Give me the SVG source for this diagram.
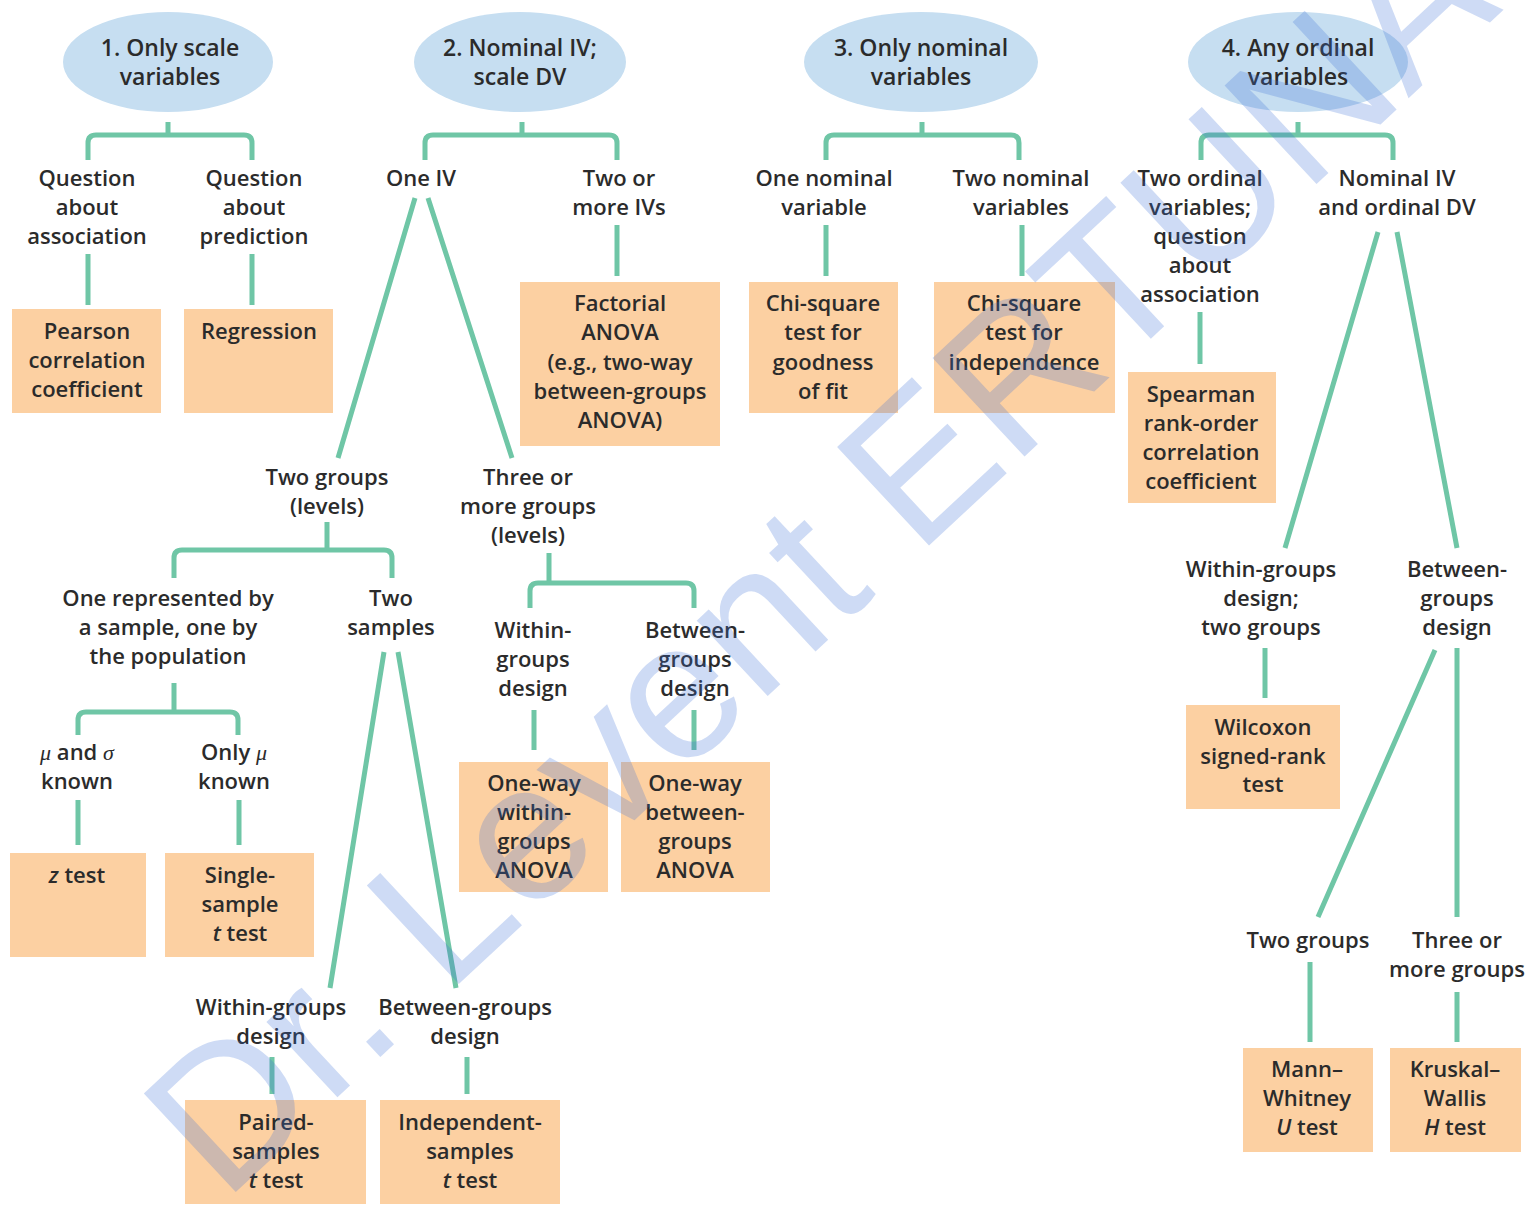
<svg xmlns="http://www.w3.org/2000/svg" width="1533" height="1207" viewBox="0 0 1533 1207">
<style>
text{font-family:"Open Sans","Noto Sans","Liberation Sans",sans-serif;font-size:22px;font-weight:600;fill:#2b2b2b;text-anchor:middle}
.head{font-size:23px}
.oval{fill:#c6def1}
.box{fill:#fcd0a2}
.con{fill:none;stroke:#6fc6a6;stroke-width:5;stroke-linecap:butt}
.wm{font-family:"Liberation Sans",sans-serif;font-size:196px;font-weight:400;fill:#3a6fd8;fill-opacity:0.25;text-anchor:start}
</style>
<rect width="1533" height="1207" fill="#ffffff"/>

<g id="connectors" class="con">
  <!-- tree 1 -->
  <path d="M168 122V135M88 160V143Q88 135 96 135H244Q252 135 252 143V160"/>
  <path d="M88 254V305M252 254V305"/>
  <!-- tree 2 -->
  <path d="M522 122V135M425 160V143Q425 135 433 135H609Q617 135 617 143V160"/>
  <path d="M617 225V276"/>
  <path d="M415 198L338 458M428 198L512 458"/>
  <path d="M327 522V550M174 578V558Q174 550 182 550H384Q392 550 392 558V578"/>
  <path d="M549 553V583M530 608V591Q530 583 538 583H686Q694 583 694 591V608"/>
  <path d="M534 710V750M694 710V750"/>
  <path d="M174 683V712M78 735V720Q78 712 86 712H230Q238 712 238 720V735"/>
  <path d="M78 800V845M239 800V845"/>
  <path d="M384 652L330 988M398 652L456 988"/>
  <path d="M272 1057V1094M467 1057V1094"/>
  <!-- tree 3 -->
  <path d="M922 122V135M826 160V143Q826 135 834 135H1011Q1019 135 1019 143V160"/>
  <path d="M826 225V276M1022 225V276"/>
  <!-- tree 4 -->
  <path d="M1298 122V135M1201 160V143Q1201 135 1209 135H1385Q1393 135 1393 143V160"/>
  <path d="M1200 312V364"/>
  <path d="M1378 232L1285 548M1397 232L1457 548"/>
  <path d="M1265 648V698"/>
  <path d="M1435 650L1318 917M1457 648V917"/>
  <path d="M1310 962V1042M1457 992V1042"/>
</g>

<g id="n1"><ellipse class="oval" cx="168" cy="62" rx="105" ry="50"/><text class="head"><tspan x="170" y="56">1. Only scale</tspan><tspan x="170" y="85">variables</tspan></text></g>
<g id="n2"><ellipse class="oval" cx="520" cy="62" rx="106" ry="50"/><text class="head"><tspan x="520" y="56">2. Nominal IV;</tspan><tspan x="520" y="85">scale DV</tspan></text></g>
<g id="n3"><ellipse class="oval" cx="921" cy="62" rx="117" ry="50"/><text class="head"><tspan x="921" y="56">3. Only nominal</tspan><tspan x="921" y="85">variables</tspan></text></g>
<g id="n4"><ellipse class="oval" cx="1298" cy="62" rx="110" ry="50"/><text class="head"><tspan x="1298" y="56">4. Any ordinal</tspan><tspan x="1298" y="85">variables</tspan></text></g>

<g id="l_assoc"><text><tspan x="87" y="186">Question</tspan><tspan x="87" y="215">about</tspan><tspan x="87" y="244">association</tspan></text></g>
<g id="l_pred"><text><tspan x="254" y="186">Question</tspan><tspan x="254" y="215">about</tspan><tspan x="254" y="244">prediction</tspan></text></g>
<g id="l_oneiv"><text><tspan x="421" y="186">One IV</tspan></text></g>
<g id="l_twoiv"><text><tspan x="619" y="186">Two or</tspan><tspan x="619" y="215">more IVs</tspan></text></g>
<g id="l_onenom"><text><tspan x="824" y="186">One nominal</tspan><tspan x="824" y="215">variable</tspan></text></g>
<g id="l_twonom"><text><tspan x="1021" y="186">Two nominal</tspan><tspan x="1021" y="215">variables</tspan></text></g>
<g id="l_twoord"><text><tspan x="1200" y="186">Two ordinal</tspan><tspan x="1200" y="215">variables;</tspan><tspan x="1200" y="244">question</tspan><tspan x="1200" y="273">about</tspan><tspan x="1200" y="302">association</tspan></text></g>
<g id="l_nomord"><text><tspan x="1397" y="186">Nominal IV</tspan><tspan x="1397" y="215">and ordinal DV</tspan></text></g>

<g id="b_pearson"><rect class="box" x="12" y="309" width="149" height="104"/><text><tspan x="87" y="339">Pearson</tspan><tspan x="87" y="368">correlation</tspan><tspan x="87" y="397">coefficient</tspan></text></g>
<g id="b_regression"><rect class="box" x="184" y="309" width="149" height="104"/><text><tspan x="259" y="339">Regression</tspan></text></g>
<g id="b_factorial"><rect class="box" x="520" y="282" width="200" height="164"/><text><tspan x="620" y="311">Factorial</tspan><tspan x="620" y="340">ANOVA</tspan><tspan x="620" y="370">(e.g., two-way</tspan><tspan x="620" y="399">between-groups</tspan><tspan x="620" y="428">ANOVA)</tspan></text></g>
<g id="b_goodness"><rect class="box" x="749" y="282" width="149" height="131"/><text><tspan x="823" y="311">Chi-square</tspan><tspan x="823" y="340">test for</tspan><tspan x="823" y="370">goodness</tspan><tspan x="823" y="399">of fit</tspan></text></g>
<g id="b_indep"><rect class="box" x="934" y="282" width="181" height="131"/><text><tspan x="1024" y="311">Chi-square</tspan><tspan x="1024" y="340">test for</tspan><tspan x="1024" y="370">independence</tspan></text></g>
<g id="b_spearman"><rect class="box" x="1128" y="372" width="148" height="131"/><text><tspan x="1201" y="402">Spearman</tspan><tspan x="1201" y="431">rank-order</tspan><tspan x="1201" y="460">correlation</tspan><tspan x="1201" y="489">coefficient</tspan></text></g>

<g id="l_twogroups"><text><tspan x="327" y="485">Two groups</tspan><tspan x="327" y="514">(levels)</tspan></text></g>
<g id="l_threegroups"><text><tspan x="528" y="485">Three or</tspan><tspan x="528" y="514">more groups</tspan><tspan x="528" y="543">(levels)</tspan></text></g>
<g id="l_onerep"><text><tspan x="168" y="606">One represented by</tspan><tspan x="168" y="635">a sample, one by</tspan><tspan x="168" y="664">the population</tspan></text></g>
<g id="l_twosamples"><text><tspan x="391" y="606">Two</tspan><tspan x="391" y="635">samples</tspan></text></g>
<g id="l_within3"><text><tspan x="533" y="638">Within-</tspan><tspan x="533" y="667">groups</tspan><tspan x="533" y="696">design</tspan></text></g>
<g id="l_between3"><text><tspan x="695" y="638">Between-</tspan><tspan x="695" y="667">groups</tspan><tspan x="695" y="696">design</tspan></text></g>
<g id="b_owwithin"><rect class="box" x="459" y="762" width="149" height="130"/><text><tspan x="534" y="791">One-way</tspan><tspan x="534" y="820">within-</tspan><tspan x="534" y="849">groups</tspan><tspan x="534" y="878">ANOVA</tspan></text></g>
<g id="b_owbetween"><rect class="box" x="621" y="762" width="149" height="130"/><text><tspan x="695" y="791">One-way</tspan><tspan x="695" y="820">between-</tspan><tspan x="695" y="849">groups</tspan><tspan x="695" y="878">ANOVA</tspan></text></g>
<g id="l_musigma"><text><tspan x="77" y="760"><tspan font-family="Liberation Serif,serif" font-style="italic" font-weight="400">μ</tspan> and <tspan font-family="Liberation Serif,serif" font-style="italic" font-weight="400">σ</tspan></tspan><tspan x="77" y="789">known</tspan></text></g>
<g id="l_onlymu"><text><tspan x="234" y="760">Only <tspan font-family="Liberation Serif,serif" font-style="italic" font-weight="400">μ</tspan></tspan><tspan x="234" y="789">known</tspan></text></g>
<g id="b_z"><rect class="box" x="10" y="853" width="136" height="104"/><text><tspan x="77" y="883"><tspan font-style="italic">z</tspan> test</tspan></text></g>
<g id="b_single"><rect class="box" x="165" y="853" width="149" height="104"/><text><tspan x="240" y="883">Single-</tspan><tspan x="240" y="912">sample</tspan><tspan x="240" y="941"><tspan font-style="italic">t</tspan> test</tspan></text></g>
<g id="l_within2"><text><tspan x="271" y="1015">Within-groups</tspan><tspan x="271" y="1044">design</tspan></text></g>
<g id="l_between2"><text><tspan x="465" y="1015">Between-groups</tspan><tspan x="465" y="1044">design</tspan></text></g>
<g id="b_paired"><rect class="box" x="185" y="1100" width="181" height="104"/><text><tspan x="276" y="1130">Paired-</tspan><tspan x="276" y="1159">samples</tspan><tspan x="276" y="1188"><tspan font-style="italic">t</tspan> test</tspan></text></g>
<g id="b_indsamp"><rect class="box" x="380" y="1100" width="180" height="104"/><text><tspan x="470" y="1130">Independent-</tspan><tspan x="470" y="1159">samples</tspan><tspan x="470" y="1188"><tspan font-style="italic">t</tspan> test</tspan></text></g>

<g id="l_within4"><text><tspan x="1261" y="577">Within-groups</tspan><tspan x="1261" y="606">design;</tspan><tspan x="1261" y="635">two groups</tspan></text></g>
<g id="l_between4"><text><tspan x="1457" y="577">Between-</tspan><tspan x="1457" y="606">groups</tspan><tspan x="1457" y="635">design</tspan></text></g>
<g id="b_wilcoxon"><rect class="box" x="1186" y="705" width="154" height="104"/><text><tspan x="1263" y="735">Wilcoxon</tspan><tspan x="1263" y="764">signed-rank</tspan><tspan x="1263" y="792">test</tspan></text></g>
<g id="l_twogroups4"><text><tspan x="1308" y="948">Two groups</tspan></text></g>
<g id="l_three4"><text><tspan x="1457" y="948">Three or</tspan><tspan x="1457" y="977">more groups</tspan></text></g>
<g id="b_mann"><rect class="box" x="1243" y="1048" width="130" height="104"/><text><tspan x="1307" y="1077">Mann–</tspan><tspan x="1307" y="1106">Whitney</tspan><tspan x="1307" y="1135"><tspan font-style="italic">U</tspan> test</tspan></text></g>
<g id="b_kruskal"><rect class="box" x="1390" y="1048" width="131" height="104"/><text><tspan x="1455" y="1077">Kruskal–</tspan><tspan x="1455" y="1106">Wallis</tspan><tspan x="1455" y="1135"><tspan font-style="italic">H</tspan> test</tspan></text></g>

<text class="wm" x="0" y="0" transform="translate(224 1203) rotate(-43)">Dr. Levent ERTUNA</text>
</svg>
